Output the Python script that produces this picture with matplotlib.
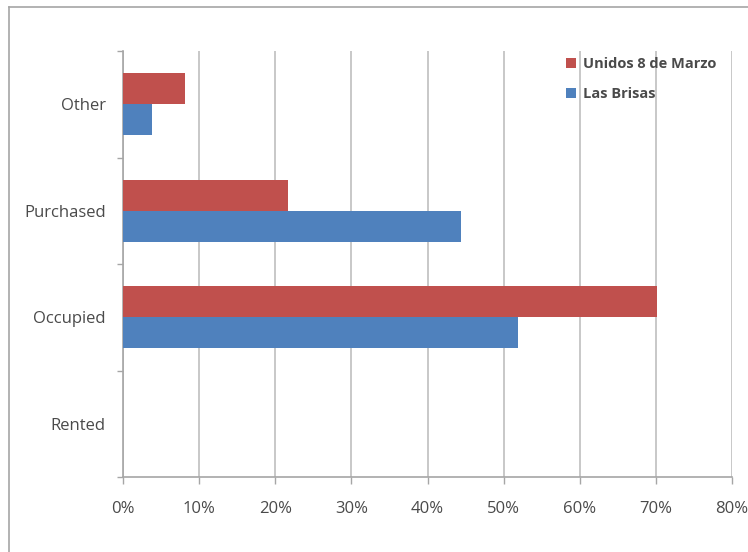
import matplotlib
matplotlib.use("Agg")
import matplotlib.pyplot as plt
from matplotlib.lines import Line2D
from matplotlib.ticker import FixedLocator, PercentFormatter
import numpy as np

categories = ["Other", "Purchased", "Occupied", "Rented"]
unidos = [8.2, 21.7, 70.2, 0.0]
las_brisas = [3.8, 44.4, 51.9, 0.0]
x_ticks = [0, 10, 20, 30, 40, 50, 60, 70, 80]

RED = "#C0504D"
BLUE = "#4F81BD"
TEXT = "#4A4A4A"
GRID = "#BFBFBF"

plt.rcParams["font.family"] = ["Open Sans", "DejaVu Sans"]

fig = plt.figure(figsize=(7.48, 5.52), dpi=100)
ax = fig.add_axes([123 / 748, 1 - 477 / 552, (732 - 123) / 748, (477 - 51) / 552])

# outer chart frame
fig.add_artist(Line2D([8.5 / 748, 8.5 / 748], [0, 1 - 6.5 / 552], color="#A6A6A6", lw=1.2))
fig.add_artist(Line2D([8.5 / 748, 1], [1 - 6.5 / 552, 1 - 6.5 / 552], color="#A6A6A6", lw=1.2))

n = len(categories)
ypos = np.arange(n)[::-1]
h = 0.29
ax.barh(ypos + h / 2, unidos, height=h, color=RED, label="Unidos 8 de Marzo", zorder=3)
ax.barh(ypos - h / 2, las_brisas, height=h, color=BLUE, label="Las Brisas", zorder=3)

ax.set_xlim(0, 80)
ax.set_ylim(-0.5, n - 0.5)
ax.xaxis.set_major_locator(FixedLocator(x_ticks))
ax.xaxis.set_major_formatter(PercentFormatter(decimals=0))
ax.grid(axis="x", color=GRID, lw=1.2, zorder=0)

ax.set_yticks(ypos)
ax.set_yticklabels(categories)
ax.set_yticks(np.arange(-0.5, n, 1.0), minor=True)
ax.tick_params(axis="y", which="major", length=0, pad=12.5, labelsize=12, labelcolor=TEXT)
ax.tick_params(axis="y", which="minor", length=4, color="#A6A6A6", width=1)
ax.tick_params(axis="x", which="major", length=5, color="#A6A6A6", width=1,
               pad=12.5, labelsize=12, labelcolor=TEXT)

for s in ["top", "right"]:
    ax.spines[s].set_visible(False)
for s in ["left", "bottom"]:
    ax.spines[s].set_color("#A6A6A6")
    ax.spines[s].set_linewidth(1.2)

leg = ax.legend(loc="upper left", bbox_to_anchor=((560 - 123) / 609, 1.0), frameon=False,
                prop={"size": 10.5, "weight": "bold"}, handlelength=0.7, handleheight=0.7,
                handletextpad=0.5, labelspacing=1.1, borderaxespad=0.0)
for t in leg.get_texts():
    t.set_color(TEXT)

fig.savefig("out.png", dpi=100, facecolor="white")
